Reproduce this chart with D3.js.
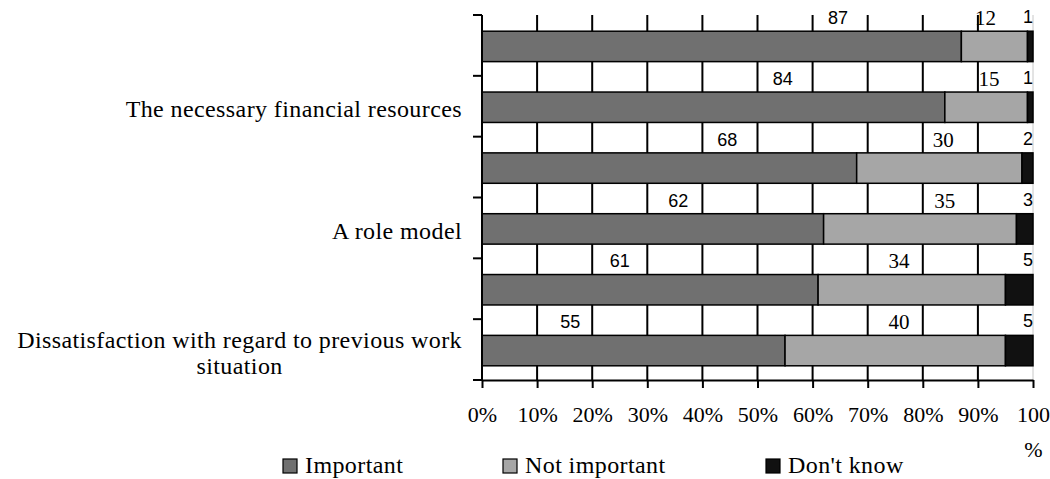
<!DOCTYPE html>
<html>
<head>
<meta charset="utf-8">
<script src="https://cdn.jsdelivr.net/npm/d3@7"></script>
<style>
  body { margin: 0; background: #fff; }
  svg { display: block; }
</style>
</head>
<body>
<div id="chart"></div>
<script>
// Data (percent, stacked to 100)
const categories = ["", "The necessary financial resources", "", "A role model", "",
    "Dissatisfaction with regard to previous work situation"];
const important = [87, 84, 68, 62, 61, 55];
const notImportant = [12, 15, 30, 35, 34, 40];
const dontKnow = [1, 1, 2, 3, 5, 5];
const seriesNames = ["Important", "Not important", "Don't know"];
const tickValues = [0, 10, 20, 30, 40, 50, 60, 70, 80, 90, 100];
const tickLabels = ["0%", "10%", "20%", "30%", "40%", "50%", "60%", "70%", "80%", "90%", "100%"];

// Where the original puts its value labels (in % along the axis)
const importantLabelAt = [64.6, 54.6, 44.5, 35.6, 25, 16];
const notImportantLabelAt = [91.4, 92, 83.7, 84, 75.7, 75.7];

const colors = ["#707070", "#a6a6a6", "#111111"];
const serif = "'Liberation Serif', 'Times New Roman', serif";
const sans = "'Liberation Sans', Arial, sans-serif";

const width = 1050, height = 479;
const svg = d3.select("#chart").append("svg")
    .attr("width", width)
    .attr("height", height);

const rows = categories.map((c, i) => ({
    i: i, cat: c,
    "Important": important[i], "Not important": notImportant[i], "Don't know": dontKnow[i]
}));

const x = d3.scaleLinear().domain([0, 100]).range([482, 1033]);
const y = d3.scaleBand()
    .domain(d3.range(categories.length))
    .range([15, 380])
    .paddingInner(0.5)
    .paddingOuter(0.25);
const gap = (y.step() - y.bandwidth()) / 2;
const boundaries = d3.range(categories.length).map(i => y(i) - gap).concat([380]);

// vertical grid lines
svg.append("g")
    .selectAll("line")
    .data(tickValues.slice(1))
    .join("line")
    .attr("x1", d => x(d)).attr("x2", d => x(d))
    .attr("y1", 15).attr("y2", 380)
    .attr("stroke", d => d === 100 ? "#c8c8c8" : "#000")
    .attr("stroke-width", d => d === 100 ? 1 : 2);

// stacked bars
const stack = d3.stack().keys(seriesNames);
const layers = stack(rows);
svg.append("g")
    .selectAll("g")
    .data(layers)
    .join("g")
    .attr("fill", (d, k) => colors[k])
    .selectAll("rect")
    .data(d => d)
    .join("rect")
    .attr("x", d => x(d[0]))
    .attr("y", d => y(d.data.i) + 1)
    .attr("width", d => x(d[1]) - x(d[0]))
    .attr("height", y.bandwidth())
    .attr("stroke", "#000")
    .attr("stroke-width", 1.5);

// left axis with ticks on band boundaries
const yAxis = svg.append("g");
yAxis.append("line")
    .attr("x1", 482).attr("x2", 482)
    .attr("y1", 15).attr("y2", 380)
    .attr("stroke", "#000").attr("stroke-width", 2);
yAxis.selectAll(".bt")
    .data(boundaries)
    .join("line")
    .attr("class", "bt")
    .attr("x1", 473).attr("x2", 482)
    .attr("y1", d => d).attr("y2", d => d)
    .attr("stroke", "#000").attr("stroke-width", 2);

// bottom axis
const xAxis = svg.append("g")
    .attr("transform", "translate(0,380)")
    .call(d3.axisBottom(x)
        .tickValues(tickValues)
        .tickFormat((d, i) => tickLabels[i])
        .tickSize(8)
        .tickSizeOuter(0)
        .tickPadding(18));
xAxis.select(".domain").attr("stroke-width", 2);
xAxis.selectAll(".tick line").attr("stroke-width", 2);
xAxis.selectAll(".tick text")
    .attr("font-family", serif)
    .attr("font-size", 22)
    .attr("fill", "#000")
    .each(function(d, i) {
        // "100%" does not fit and wraps in the original
        if (d === 100) {
            const t = d3.select(this).text(null);
            t.append("tspan").attr("x", 0).text(tickLabels[i].slice(0, 3));
            t.append("tspan").attr("x", 0).attr("dy", "1.6em").text("%");
        }
    });

// category labels (wrapped, centred lines, right edge at 462)
svg.append("g")
    .selectAll("text")
    .data(rows.filter(r => r.cat !== ""))
    .join("text")
    .attr("font-family", serif)
    .attr("font-size", 24)
    .attr("letter-spacing", 0.4)
    .attr("fill", "#000")
    .each(function(r) {
        const t = d3.select(this);
        const words = r.cat.split(" ");
        const lines = [];
        let cur = [];
        const probe = t.append("tspan");
        words.forEach(w => {
            const test = cur.concat([w]).join(" ");
            probe.text(test);
            if (probe.node().getComputedTextLength() > 452 && cur.length) {
                lines.push(cur.join(" "));
                cur = [w];
            } else {
                cur.push(w);
            }
        });
        lines.push(cur.join(" "));
        let maxW = 0;
        lines.forEach(l => {
            probe.text(l);
            maxW = Math.max(maxW, probe.node().getComputedTextLength());
        });
        probe.remove();
        const cx = 462 - maxW / 2;
        const cy = y(r.i) + 1 + y.bandwidth() / 2;
        const lh = 26;
        lines.forEach((l, k) => {
            t.append("tspan")
                .attr("x", cx)
                .attr("y", cy + 10 - (lines.length - 1) * lh / 2 + k * lh)
                .attr("text-anchor", "middle")
                .text(l);
        });
    });

// value labels, sitting on the boundary above each bar
const labels = svg.append("g");
labels.selectAll(".imp")
    .data(rows)
    .join("text")
    .attr("class", "imp")
    .attr("x", d => x(importantLabelAt[d.i]))
    .attr("y", d => boundaries[d.i] + 9)
    .attr("text-anchor", "middle")
    .attr("font-family", sans)
    .attr("font-size", 18)
    .text(d => d["Important"]);
labels.selectAll(".not")
    .data(rows)
    .join("text")
    .attr("class", "not")
    .attr("x", d => x(notImportantLabelAt[d.i]))
    .attr("y", d => boundaries[d.i] + 10)
    .attr("text-anchor", "middle")
    .attr("font-family", serif)
    .attr("font-size", 21)
    .text(d => d["Not important"]);
labels.selectAll(".dk")
    .data(rows)
    .join("text")
    .attr("class", "dk")
    .attr("x", x(100))
    .attr("y", d => boundaries[d.i] + 8)
    .attr("text-anchor", "end")
    .attr("font-family", sans)
    .attr("font-size", 18)
    .text(d => d["Don't know"]);

// legend
const legendX = [283, 503, 766];
const legend = svg.append("g")
    .selectAll("g")
    .data(seriesNames)
    .join("g")
    .attr("transform", (d, k) => `translate(${legendX[k]},459)`);
legend.append("rect")
    .attr("width", 14).attr("height", 14)
    .attr("fill", (d, k) => colors[k])
    .attr("stroke", "#000").attr("stroke-width", 1.2);
legend.append("text")
    .attr("x", 22).attr("y", 14)
    .attr("font-family", serif)
    .attr("font-size", 24)
    .attr("letter-spacing", 0.4)
    .text(d => d);
</script>
</body>
</html>
